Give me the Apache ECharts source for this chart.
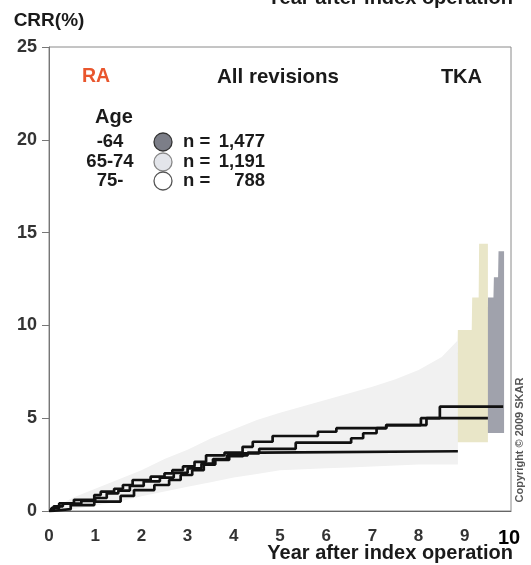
<!DOCTYPE html>
<html><head><meta charset="utf-8">
<script src="https://cdn.jsdelivr.net/npm/echarts@6/dist/echarts.min.js"></script>
<style>html,body{margin:0;padding:0;background:#fff}#c{width:531px;height:565px}</style>
</head><body><div id="c"></div>
<script>
// ---- data ----
const ageGroups = ['-64', '65-74', '75-'];
const patientCounts = ['1,477', '1,191', '788'];
const xTickValues = [0, 1, 2, 3, 4, 5, 6, 7, 8, 9, 10];
const yTickValues = [0, 5, 10, 15, 20, 25];
const xAxisTitle = 'Year after index operation';
const yAxisTitle = 'CRR(%)';

// cumulative revision rate step curves: [year, CRR %]
const crrAge64 = [[0,0],[0.05,0.15],[0.22,0.41],[0.54,0.6],[0.98,0.86],[1.12,1.04],[1.41,1.2],[1.6,1.4],[1.81,1.67],[2.2,1.85],[2.5,2.03],[2.67,2.2],[2.9,2.4],[3.15,2.65],[3.4,3.0],[3.8,3.15],[4.19,3.46],[4.41,3.73],[4.84,4.04],[5.82,4.27],[6.22,4.46],[7.3,4.63],[8.05,5.0],[8.46,5.62],[9.83,5.62]];
const crrAge65_74 = [[0,0],[0.05,0.1],[0.47,0.32],[0.98,0.5],[1.55,0.81],[1.84,1.13],[2.28,1.4],[2.6,1.67],[2.85,1.94],[3.1,2.2],[3.35,2.5],[3.6,2.75],[3.9,2.95],[4.2,3.1],[4.55,3.35],[5.34,3.68],[6.54,3.92],[6.8,4.19],[7.09,4.46],[7.3,4.63],[8.17,5.0],[9.5,5.0]];
const crrAge75 = [[0,0],[0.1,0.25],[0.3,0.4],[0.7,0.55],[1.0,0.7],[1.25,0.95],[1.5,1.1],[1.75,1.35],[2.05,1.6],[2.4,1.8],[2.7,2.05],[3.0,2.3],[3.3,2.55],[3.55,2.8],[3.85,3.0],[4.3,3.15],[4.6,3.22],[8.85,3.22]];

// confidence bands: [year, lower, upper]
const ciAge64 = [[0,0,0],[1,0.4,1.1],[2,1.1,2.1],[3,1.7,3.1],[4,2.6,4.2],[5,3.1,5.0],[6,3.3,5.6],[7,3.5,5.8],[8,3.8,6.5],[8.5,4.0,7.5],[9,4.2,9.0],[9.49,4.2,11.0],[9.5,4.2,11.5],[9.62,4.2,11.5],[9.63,4.2,12.6],[9.72,4.2,12.6],[9.73,4.2,14.0],[9.85,4.2,14.0]];
const ciAge65_74 = [[0,0,0],[1,0.3,1.0],[2,0.9,2.0],[3,1.5,3.0],[4,2.3,4.1],[5,2.6,4.9],[6,2.9,5.4],[7,3.2,5.7],[8,3.4,6.3],[8.5,3.6,7.0],[8.84,3.7,8.5],[8.85,3.7,9.75],[9.15,3.7,9.75],[9.16,3.7,11.5],[9.3,3.7,11.5],[9.31,3.7,14.4],[9.5,3.7,14.4]];
const ciAge75 = [[0,0,0],[0.5,0.1,0.7],[1,0.3,1.2],[1.5,0.5,1.7],[2,0.8,2.2],[2.5,1.05,2.8],[3,1.3,3.3],[3.5,1.55,3.9],[4,1.8,4.4],[4.5,2.0,4.9],[5,2.2,5.3],[5.5,2.25,5.65],[6,2.3,6.0],[6.5,2.35,6.35],[7,2.4,6.7],[7.5,2.45,7.1],[8,2.5,7.6],[8.5,2.5,8.3],[8.85,2.5,9.2]];

const FONT = "'Liberation Sans', Arial, Helvetica, sans-serif";

function bandSeries(rows, color) {
  return {
    type: 'custom',
    data: rows,
    encode: { x: 0, y: [1, 2] },
    silent: true,
    renderItem: function (params, api) {
      if (params.dataIndex !== 0) return;
      const top = rows.map(r => api.coord([r[0], r[2]]));
      const bottom = rows.slice().reverse().map(r => api.coord([r[0], r[1]]));
      return { type: 'polygon', shape: { points: top.concat(bottom) }, style: { fill: color, stroke: null } };
    }
  };
}
function stepSeries(name, rows) {
  return {
    name: name, type: 'line', step: 'end', data: rows, symbol: 'none', silent: true,
    lineStyle: { color: '#111', width: 2.7 }, z: 5
  };
}

const chart = echarts.init(document.getElementById('c'));
const legendGraphics = [];
const rowY = [142, 162, 181];
const circleFill = ['#7c7e88', '#e3e5ea', '#ffffff'];
const circleStroke = ['#333', '#888', '#555'];
const tStyle = { font: 'bold 18.5px ' + FONT, fill: '#1a1a1a' };
legendGraphics.push({ type: 'text', x: 114, y: 117, style: { text: 'Age', font: 'bold 20px ' + FONT, fill: '#1a1a1a', align: 'center', verticalAlign: 'middle' } });
ageGroups.forEach((g, i) => {
  legendGraphics.push({ type: 'text', x: 110, y: rowY[i], style: Object.assign({ text: g, align: 'center', verticalAlign: 'middle' }, tStyle) });
  legendGraphics.push({ type: 'circle', shape: { cx: 163, cy: rowY[i], r: 9 }, style: { fill: circleFill[i], stroke: circleStroke[i], lineWidth: 1.3 } });
  legendGraphics.push({ type: 'text', x: 183, y: rowY[i], style: Object.assign({ text: 'n =', align: 'left', verticalAlign: 'middle' }, tStyle) });
  legendGraphics.push({ type: 'text', x: 265, y: rowY[i], style: Object.assign({ text: patientCounts[i], align: 'right', verticalAlign: 'middle' }, tStyle) });
});

chart.setOption({
  animation: false,
  grid: { left: 49, right: 20, top: 47, bottom: 54, containLabel: false, outerBoundsMode: 'none', show: true, borderColor: '#8a8a8a', borderWidth: 1 },
  xAxis: {
    type: 'value', min: 0, max: 10, interval: 1,
    axisLine: { show: true, lineStyle: { color: '#666', width: 1 } },
    axisTick: { show: false },
    splitLine: { show: false },
    axisLabel: {
      margin: 17, fontFamily: FONT, fontWeight: 'bold', fontSize: 17, color: '#333',
      formatter: v => v === 10 ? '{big|10}' : String(v),
      rich: { big: { fontFamily: FONT, fontWeight: 'bold', fontSize: 20, color: '#000', padding: [0, 4, 3, 0] } }
    }
  },
  yAxis: {
    type: 'value', min: 0, max: 25, interval: 5,
    axisLine: { show: true, lineStyle: { color: '#777', width: 1 } },
    axisTick: { show: true, length: 7, lineStyle: { color: '#777' } },
    splitLine: { show: false },
    axisLabel: { margin: 12, fontFamily: FONT, fontWeight: 'bold', fontSize: 18, color: '#333' },
    name: yAxisTitle, nameLocation: 'end', nameGap: 17,
    nameTextStyle: { fontFamily: FONT, fontWeight: 'bold', fontSize: 19, color: '#1a1a1a' }
  },
  graphic: [
    { type: 'text', x: 513, y: -2, style: { text: xAxisTitle, font: 'bold 20px ' + FONT, fill: '#1a1a1a', align: 'right', verticalAlign: 'middle' } },
    { type: 'text', x: 513, y: 553, style: { text: xAxisTitle, font: 'bold 20px ' + FONT, fill: '#1a1a1a', align: 'right', verticalAlign: 'middle' } },
    { type: 'text', x: 82, y: 77, style: { text: 'RA', font: 'bold 19.5px ' + FONT, fill: '#e9562d', align: 'left', verticalAlign: 'middle' } },
    { type: 'text', x: 278, y: 77, style: { text: 'All revisions', font: 'bold 20.5px ' + FONT, fill: '#1a1a1a', align: 'center', verticalAlign: 'middle' } },
    { type: 'text', x: 482, y: 77, style: { text: 'TKA', font: 'bold 20px ' + FONT, fill: '#1a1a1a', align: 'right', verticalAlign: 'middle' } },
    { type: 'text', x: 520, y: 440, rotation: Math.PI / 2, style: { text: 'Copyright \u00a9 2009 SKAR', font: 'bold 11px ' + FONT, fill: '#555', align: 'center', verticalAlign: 'middle' } }
  ].concat(legendGraphics),
  series: [
    bandSeries(ciAge64, '#a0a2ac'),
    bandSeries(ciAge65_74, '#e9e6c8'),
    bandSeries(ciAge75, '#f1f1f1'),
    stepSeries('-64', crrAge64),
    stepSeries('65-74', crrAge65_74),
    stepSeries('75-', crrAge75)
  ]
});
</script></body></html>
